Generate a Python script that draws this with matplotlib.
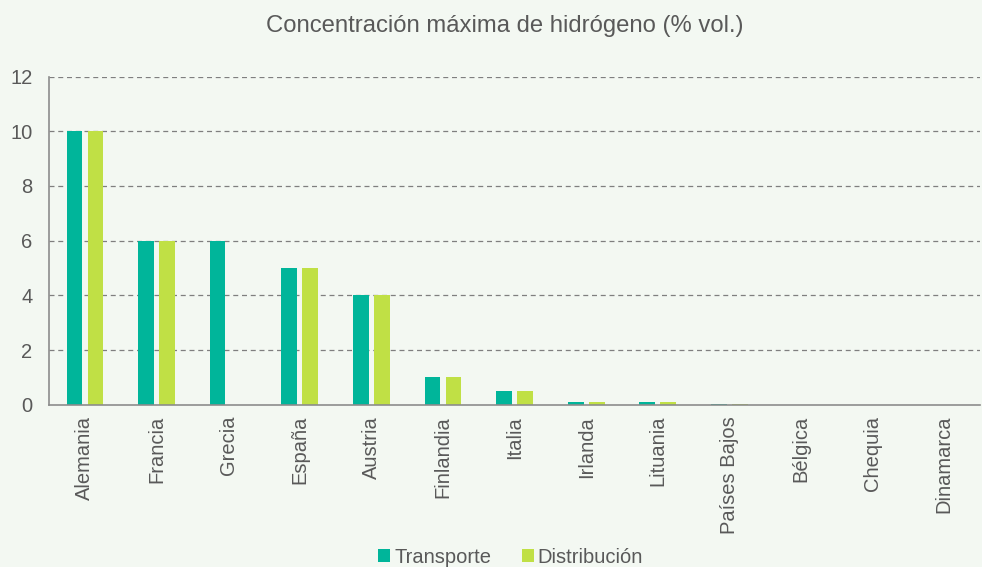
from matplotlib import pyplot as plt
import numpy as np

paises = ['Alemania', 'Francia', 'Grecia', 'España', 'Austria', 'Finlandia', 'Italia',
          'Irlanda', 'Lituania', 'Países Bajos', 'Bélgica', 'Chequia', 'Dinamarca']
transporte = [10, 6, 6, 5, 4, 1, 0.5, 0.1, 0.1, 0.02, 0, 0, 0]
distribucion = [10, 6, 0, 5, 4, 1, 0.5, 0.1, 0.1, 0.02, 0, 0, 0]

BG = '#f3f8f2'
TEXT = '#595959'
plt.rcParams['font.family'] = ['Liberation Sans', 'DejaVu Sans']

fig = plt.figure(figsize=(9.82, 5.67), dpi=100, facecolor=BG)
ax = fig.add_axes([0.05, 0.286, 0.948, 0.579], facecolor=BG)

x = np.arange(len(paises))
ax.bar(x - 0.147, transporte, width=0.22, color='#00b59a', label='Transporte')
ax.bar(x + 0.147, distribucion, width=0.22, color='#c0e045', label='Distribución')

ax.set_xlim(-0.5, len(paises) - 0.5)
ax.set_ylim(0, 12)
ax.set_yticks(range(0, 13, 2))
for y in range(2, 13, 2):
    ax.axhline(y, color='#7f7f7f', linestyle=(0, (4, 3)), linewidth=0.9, zorder=0)

ax.set_xticks(x)
ax.set_xticklabels(paises, rotation=90, fontsize=14.5, color=TEXT)
ax.tick_params(axis='y', labelsize=14.5, labelcolor=TEXT, length=0, pad=12)
ax.tick_params(axis='x', length=0, pad=8)

for s in ['top', 'right']:
    ax.spines[s].set_visible(False)
for s in ['left', 'bottom']:
    ax.spines[s].set_color('#8c8c8c')
    ax.spines[s].set_linewidth(1.2)

fig.text(0.514, 0.955, 'Concentración máxima de hidrógeno (% vol.)', ha='center', va='center',
         fontsize=17.2, color=TEXT)

fig.legend(loc='center', bbox_to_anchor=(0.52, 0.017), ncol=2, frameon=False,
           fontsize=14.5, labelcolor=TEXT, handlelength=0.6, handleheight=0.6,
           handletextpad=0.2, columnspacing=1.5)

plt.savefig('out.png', dpi=100, facecolor=BG)
plt.close()
